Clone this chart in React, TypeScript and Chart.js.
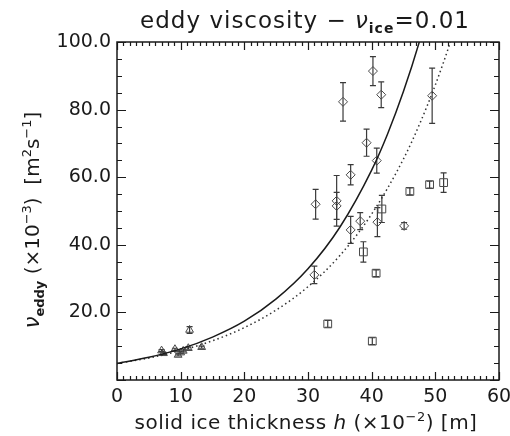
import React, { useEffect, useRef } from "react";
import { Chart, registerables } from "chart.js";
Chart.register(...registerables);

// ---- data ----
const diamondH = [31.2, 35.5, 40.2, 41.5, 49.5, 39.2, 40.8, 36.7, 34.5, 34.5, 38.2, 36.7, 40.9, 45.1, 31.0];
const diamondNu = [52.0, 82.3, 91.4, 84.4, 84.1, 70.2, 64.9, 60.7, 53.0, 51.5, 47.0, 44.4, 46.7, 45.6, 31.1];
const diamondErr = [4.4, 5.7, 4.3, 3.8, 8.2, 4.0, 3.7, 3.0, 7.5, 4.0, 2.5, 4.0, 4.3, 1.0, 2.6];

const squareH = [46.0, 49.1, 51.3, 41.6, 38.7, 40.7, 33.1, 40.1];
const squareNu = [55.8, 57.8, 58.4, 50.6, 37.9, 31.6, 16.6, 11.5];
const squareErr = [1.0, 1.0, 2.9, 4.0, 3.0, 1.0, 1.0, 1.0];

const triH = [7.0, 7.3, 9.1, 9.6, 10.0, 10.4, 11.2, 11.4, 13.3];
const triNu = [8.7, 7.9, 9.1, 7.4, 8.1, 8.6, 9.4, 14.8, 9.7];
const triErr = [0.3, 0.3, 0.3, 0.3, 0.3, 0.3, 0.3, 1.0, 0.3];

const fitSolidH = [0, 5, 10, 15, 20, 25, 30, 35, 40, 42.5, 45, 47.5, 50];
const fitSolidNu = [4.9, 6.7, 9.2, 12.7, 17.4, 24.0, 32.9, 45.2, 62.1, 72.8, 85.4, 100.1, 117.3];
const fitDottedH = [0, 5, 10, 15, 20, 25, 30, 35, 40, 45, 47.5, 50, 52.5, 55];
const fitDottedNu = [4.9, 6.5, 8.7, 11.6, 15.5, 20.7, 27.6, 36.8, 49.1, 65.4, 75.6, 87.3, 100.8, 116.4];

const xTickValues = [0, 10, 20, 30, 40, 50, 60];
const xTickLabels = ["0", "10", "20", "30", "40", "50", "60"];
const yTickValues = [0, 20, 40, 60, 80, 100];
const yTickLabels = ["", "20.0", "40.0", "60.0", "80.0", "100.0"];

const FAM = "'DejaVu Sans', sans-serif";
const INK = "#1a1a1a";
const MARK = "#4a4a4a";

type Part = { t: string; font: string; dy?: number };

function drawRich(
  ctx: CanvasRenderingContext2D,
  parts: Part[],
  x: number,
  y: number,
  rotate: boolean,
  spacing: number
) {
  ctx.save();
  ctx.translate(x, y);
  if (rotate) ctx.rotate(-Math.PI / 2);
  ctx.textAlign = "left";
  ctx.textBaseline = "alphabetic";
  ctx.fillStyle = INK;
  (ctx as any).letterSpacing = `${spacing}px`;
  let total = 0;
  for (const p of parts) {
    ctx.font = p.font;
    total += ctx.measureText(p.t).width;
  }
  let cx = -total / 2;
  for (const p of parts) {
    ctx.font = p.font;
    ctx.fillText(p.t, cx, p.dy || 0);
    cx += ctx.measureText(p.t).width;
  }
  ctx.restore();
}

const decorPlugin = {
  id: "decor",
  beforeDatasetsDraw(chart: any) {
    const ctx: CanvasRenderingContext2D = chart.ctx;
    const xs = chart.scales.x;
    const ys = chart.scales.y;
    ctx.save();
    ctx.strokeStyle = "#3a3a3a";
    ctx.lineWidth = 1.2;
    chart.data.datasets.forEach((ds: any) => {
      if (!ds.errors) return;
      ds.data.forEach((pt: any, i: number) => {
        const e = ds.errors[i];
        const px = xs.getPixelForValue(pt.x);
        const y0 = ys.getPixelForValue(pt.y - e);
        const y1 = ys.getPixelForValue(pt.y + e);
        ctx.beginPath();
        ctx.moveTo(px, y0);
        ctx.lineTo(px, y1);
        ctx.moveTo(px - 3, y0);
        ctx.lineTo(px + 3, y0);
        ctx.moveTo(px - 3, y1);
        ctx.lineTo(px + 3, y1);
        ctx.stroke();
      });
    });
    ctx.restore();
  },
  afterDraw(chart: any) {
    const ctx: CanvasRenderingContext2D = chart.ctx;
    const a = chart.chartArea;
    const xs = chart.scales.x;
    const ys = chart.scales.y;
    ctx.save();
    ctx.strokeStyle = INK;
    ctx.lineWidth = 1.5;
    ctx.strokeRect(a.left, a.top, a.right - a.left, a.bottom - a.top);
    ctx.lineWidth = 1.2;
    ctx.beginPath();
    for (let v = 0; v <= 60; v += 1) {
      const px = Math.round(xs.getPixelForValue(v)) + 0.5;
      const len = v % 10 === 0 ? 8 : 4;
      ctx.moveTo(px, a.bottom);
      ctx.lineTo(px, a.bottom - len);
      ctx.moveTo(px, a.top);
      ctx.lineTo(px, a.top + len);
    }
    for (let v = 0; v <= 100; v += 5) {
      const py = Math.round(ys.getPixelForValue(v)) + 0.5;
      const len = v % 20 === 0 ? 9 : 5;
      ctx.moveTo(a.left, py);
      ctx.lineTo(a.left + len, py);
      ctx.moveTo(a.right, py);
      ctx.lineTo(a.right - len, py);
    }
    ctx.stroke();
    ctx.restore();

    const big = `23px ${FAM}`;
    drawRich(
      ctx,
      [
        { t: "eddy viscosity \u2212 ", font: big },
        { t: "\u03bd", font: `italic 23px ${FAM}` },
        { t: "ice", font: `bold 14px ${FAM}`, dy: 5 },
        { t: "=0.01", font: big },
      ],
      305,
      28,
      false,
      1
    );
    const mid = `20px ${FAM}`;
    const sup = `13px ${FAM}`;
    drawRich(
      ctx,
      [
        { t: "solid ice thickness ", font: mid },
        { t: "h", font: `italic 20px ${FAM}` },
        { t: " (\u00d710", font: mid },
        { t: "\u22122", font: sup, dy: -8 },
        { t: ") [m]", font: mid },
      ],
      306,
      429,
      false,
      0.5
    );
    drawRich(
      ctx,
      [
        { t: "\u03bd", font: `italic 21px ${FAM}` },
        { t: "eddy", font: `bold 13px ${FAM}`, dy: 5 },
        { t: " (\u00d710", font: mid },
        { t: "\u22123", font: sup, dy: -8 },
        { t: ")  [m", font: mid },
        { t: "2", font: sup, dy: -8 },
        { t: "s", font: mid },
        { t: "\u22121", font: sup, dy: -8 },
        { t: "]", font: mid },
      ],
      39,
      220,
      true,
      0
    );
  },
};

const toPts = (xs: number[], ys: number[]) => xs.map((x, i) => ({ x, y: ys[i] }));

export default function App() {
  const ref = useRef<HTMLCanvasElement | null>(null);
  useEffect(() => {
    document.body.style.margin = "0";
    const canvas = ref.current;
    if (!canvas) return;
    const chart = new Chart(canvas, {
      type: "scatter",
      data: {
        datasets: [
          {
            type: "line",
            data: toPts(fitSolidH, fitSolidNu),
            borderColor: INK,
            borderWidth: 1.5,
            pointRadius: 0,
            cubicInterpolationMode: "monotone",
            fill: false,
          } as any,
          {
            type: "line",
            data: toPts(fitDottedH, fitDottedNu),
            borderColor: "#333",
            borderWidth: 1.5,
            borderDash: [1.5, 3],
            pointRadius: 0,
            cubicInterpolationMode: "monotone",
            fill: false,
          } as any,
          {
            data: toPts(diamondH, diamondNu),
            errors: diamondErr,
            pointStyle: "rectRot",
            pointRadius: 4.5,
            borderColor: MARK,
            backgroundColor: "rgba(255,255,255,0)",
            borderWidth: 1,
          } as any,
          {
            data: toPts(squareH, squareNu),
            errors: squareErr,
            pointStyle: "rect",
            pointRadius: 5.5,
            borderColor: MARK,
            backgroundColor: "rgba(255,255,255,0)",
            borderWidth: 1,
          } as any,
          {
            data: toPts(triH, triNu),
            errors: triErr,
            pointStyle: "triangle",
            pointRadius: 4.5,
            borderColor: MARK,
            backgroundColor: "rgba(255,255,255,0)",
            borderWidth: 1,
          } as any,
        ],
      },
      options: {
        responsive: false,
        animation: false,
        devicePixelRatio: 1,
        layout: { padding: { left: 0, top: 42, right: 11, bottom: 0 } },
        plugins: { legend: { display: false }, tooltip: { enabled: false }, title: { display: false } },
        scales: {
          x: {
            type: "linear",
            min: 0,
            max: 60,
            afterBuildTicks: (s: any) => {
              s.ticks = xTickValues.map((v) => ({ value: v }));
            },
            afterFit: (s: any) => {
              s.height = 56;
              s.paddingLeft = 0;
              s.paddingRight = 0;
            },
            ticks: {
              autoSkip: false,
              maxRotation: 0,
              padding: 6,
              color: INK,
              font: { family: FAM, size: 19 },
              callback: (v: any) => {
                const i = xTickValues.indexOf(Number(v));
                return i >= 0 ? xTickLabels[i] : "";
              },
            },
            grid: { display: false, drawTicks: false },
            border: { display: false },
          },
          y: {
            type: "linear",
            min: 0,
            max: 100,
            afterBuildTicks: (s: any) => {
              s.ticks = yTickValues.map((v) => ({ value: v }));
            },
            afterFit: (s: any) => {
              s.width = 117;
              s.paddingTop = 0;
              s.paddingBottom = 0;
            },
            ticks: {
              autoSkip: false,
              padding: 6,
              color: INK,
              font: { family: FAM, size: 19 },
              callback: (v: any) => {
                const i = yTickValues.indexOf(Number(v));
                return i >= 0 ? yTickLabels[i] : "";
              },
            },
            grid: { display: false, drawTicks: false },
            border: { display: false },
          },
        },
      } as any,
      plugins: [decorPlugin],
    });
    return () => chart.destroy();
  }, []);
  return (
    <div style={{ position: "fixed", left: 0, top: 0, width: 510, height: 436, background: "#fff" }}>
      <canvas ref={ref} width={510} height={436} />
    </div>
  );
}
